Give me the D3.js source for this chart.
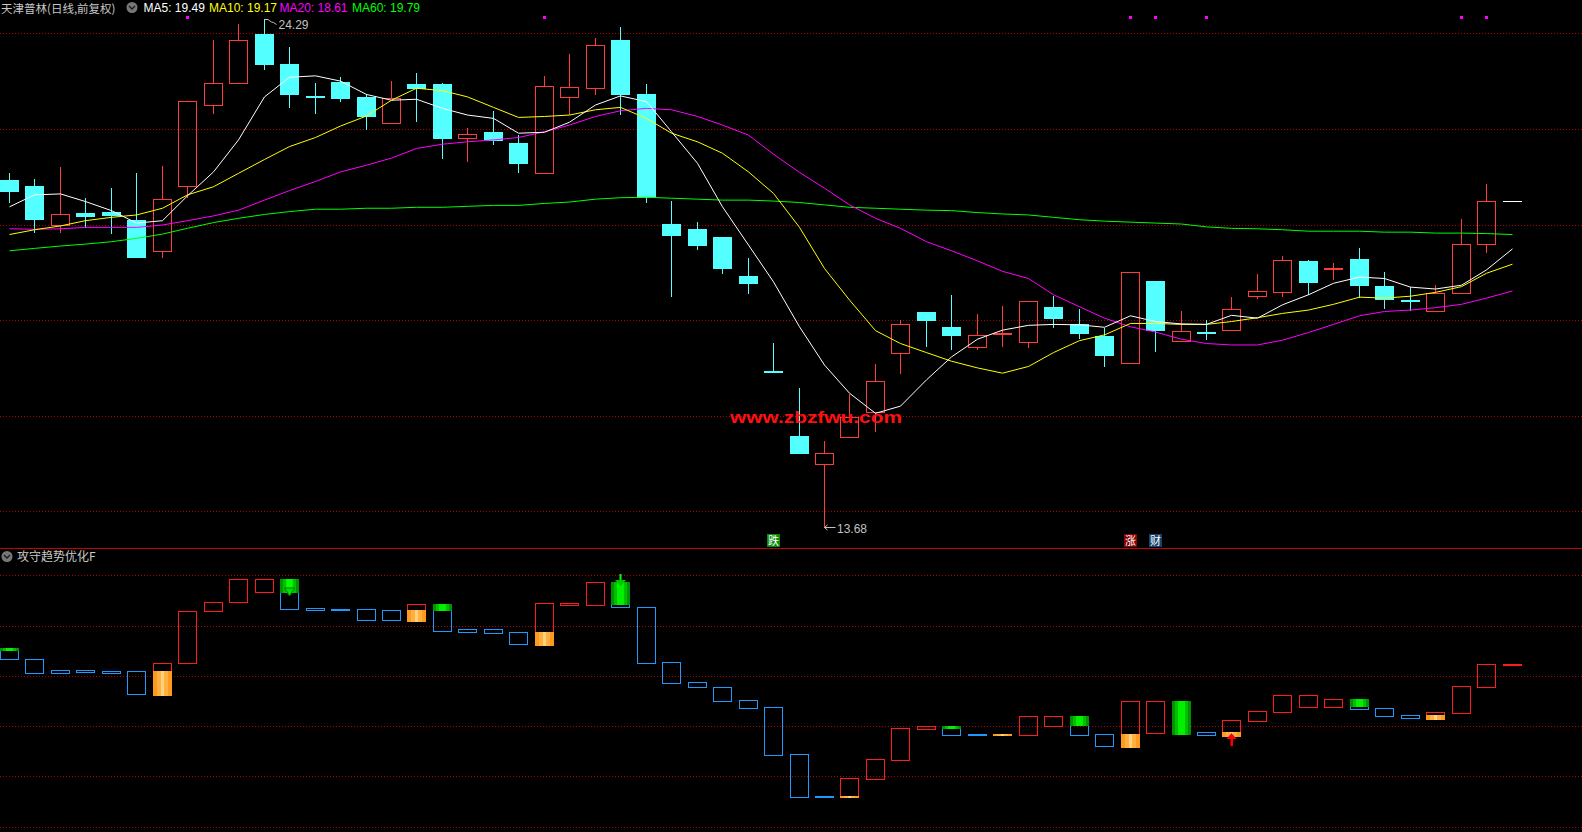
<!DOCTYPE html>
<html><head><meta charset="utf-8">
<script src="https://cdn.jsdelivr.net/npm/d3@7"></script>
<style>html,body{margin:0;padding:0;background:#000;overflow:hidden}</style>
</head><body>
<svg id="chart" width="1582" height="832"></svg>
<script>
// ---------- data ----------
const open  = [20.93,20.81,19.98,20.24,20.26,20.09,19.44,20.80,22.49,22.95,
               23.99,23.36,22.67,22.98,22.67,22.13,22.94,22.94,21.80,21.94,
               21.71,21.07,22.67,22.86,23.86,22.73,20.01,19.91,19.74,18.92,
               16.91,15.58,15.00,15.55,16.08,17.31,18.17,17.86,17.43,17.69,
               17.55,18.27,17.91,17.67,17.10,18.82,17.56,17.73,17.80,18.51,
               18.59,19.24,19.06,19.28,18.71,18.40,18.18,18.56,19.59,20.49];
const close = [20.71,20.12,20.23,20.18,20.20,19.33,20.53,22.58,22.95,23.85,
               23.36,22.72,22.66,22.65,22.28,22.64,22.86,21.82,21.89,21.76,
               21.29,22.89,22.87,23.75,22.74,20.58,19.79,19.58,19.08,18.78,
               16.91,15.23,15.23,15.97,16.72,17.91,18.01,17.69,17.68,17.70,
               18.41,18.05,17.72,17.28,19.00,17.80,17.77,17.72,18.23,18.60,
               19.26,18.80,19.07,18.74,18.44,18.39,18.56,19.59,20.49,20.49];
const high  = [21.08,20.95,21.21,20.55,20.76,21.08,21.22,22.58,23.87,24.19,
               24.29,23.71,22.95,23.08,22.74,23.00,23.17,22.97,22.01,22.37,
               21.87,23.11,23.57,23.90,24.13,22.94,20.49,20.05,19.74,19.30,
               17.52,16.57,15.47,16.45,17.08,18.00,18.17,18.53,18.13,18.30,
               18.41,18.50,18.23,17.84,19.00,18.82,18.19,18.00,18.48,18.96,
               19.34,19.26,19.20,19.51,19.01,18.69,18.73,20.12,20.85,20.49];
const low   = [20.48,19.84,19.84,19.94,19.82,19.31,19.31,20.58,22.34,22.95,
               23.26,22.46,22.33,22.59,22.00,22.13,22.17,21.40,21.33,21.68,
               21.10,21.07,22.31,22.74,22.32,20.48,18.51,19.49,18.99,18.57,
               16.91,15.23,13.68,15.55,15.69,16.90,17.46,17.40,17.40,17.46,
               17.43,17.86,17.63,17.03,17.10,17.36,17.56,17.61,17.80,18.47,
               18.51,18.55,18.87,18.48,18.25,18.21,18.18,18.56,19.43,20.49];

const ma5  = [20.37,20.62,20.64,20.48,20.29,20.03,20.08,20.60,21.10,21.77,
              22.67,23.08,23.11,23.00,22.72,22.60,22.62,22.43,22.29,22.22,
              21.91,21.93,22.14,22.50,22.69,22.57,21.94,21.28,20.37,19.57,
              18.80,17.86,17.06,16.47,16.05,16.20,16.75,17.23,17.60,17.79,
              17.89,17.91,17.90,17.85,18.09,17.97,17.92,17.91,18.10,18.04,
              18.32,18.53,18.77,18.90,18.87,18.69,18.65,18.73,19.05,19.49];
const ma10 = [19.79,19.89,19.97,20.08,20.15,20.20,20.34,20.62,20.79,21.07,
              21.36,21.63,21.82,22.06,22.27,22.60,22.85,22.80,22.67,22.45,
              22.24,22.26,22.29,22.40,22.45,22.22,21.91,21.73,21.49,21.10,
              20.65,19.94,19.08,18.42,17.78,17.51,17.32,17.14,17.00,16.89,
              17.03,17.32,17.57,17.69,17.93,17.93,17.91,17.91,17.97,18.05,
              18.14,18.21,18.33,18.48,18.46,18.50,18.58,18.70,18.98,19.17];
const ma20 = [19.91,19.90,19.91,19.94,19.94,19.94,19.99,20.08,20.18,20.30,
              20.51,20.71,20.90,21.10,21.24,21.39,21.59,21.68,21.73,21.77,
              21.82,21.94,22.08,22.26,22.38,22.43,22.40,22.26,22.08,21.87,
              21.47,21.09,20.76,20.41,20.13,19.92,19.64,19.45,19.24,19.02,
              18.87,18.53,18.28,18.04,17.86,17.75,17.60,17.51,17.48,17.48,
              17.58,17.74,17.91,18.09,18.18,18.21,18.26,18.33,18.46,18.61];
const ma60 = [19.45,19.50,19.55,19.59,19.64,19.71,19.80,19.92,20.04,20.13,
              20.21,20.27,20.32,20.32,20.34,20.34,20.36,20.36,20.38,20.40,
              20.40,20.44,20.47,20.53,20.56,20.57,20.55,20.53,20.51,20.51,
              20.49,20.46,20.41,20.36,20.34,20.32,20.30,20.29,20.25,20.22,
              20.20,20.15,20.10,20.07,20.05,20.03,20.01,19.95,19.92,19.91,
              19.89,19.86,19.86,19.86,19.84,19.84,19.82,19.82,19.81,19.79];

// indicator "攻守趋势优化F": box top / bottom, colour flag, fills
const indHi = [21.12,20.66,20.22,20.22,20.18,20.18,20.50,22.57,22.93,23.84,
               23.84,23.84,22.70,22.65,22.65,22.61,22.85,22.85,21.85,21.85,
               21.73,22.89,22.90,23.72,23.73,22.73,20.54,19.74,19.54,19.03,
               18.75,16.88,15.20,15.92,16.68,17.91,17.99,18.00,17.67,17.67,
               18.39,18.39,18.40,17.67,18.99,18.99,19.00,17.76,18.23,18.59,
               19.22,19.22,19.07,19.08,18.71,18.43,18.55,19.59,20.46,20.46];
const indLo = [20.66,20.10,20.10,20.14,20.13,19.29,19.29,20.50,22.57,22.93,
               23.32,22.67,22.63,22.65,22.23,22.23,22.23,21.77,21.76,21.72,
               21.25,21.25,22.83,22.83,22.73,20.52,19.73,19.54,19.01,18.73,
               16.86,15.19,15.20,15.20,15.90,16.66,17.89,17.66,17.67,17.67,
               17.66,18.01,17.66,17.22,17.22,17.74,17.74,17.66,17.66,18.21,
               18.57,18.77,18.77,18.69,18.41,18.33,18.33,18.53,19.57,20.46];
const indUp = [0,0,0,0,0,0,1,1,1,1, 1,0,0,0,0,0,1,0,0,0,
               0,1,1,1,0,0,0,0,0,0, 0,0,0,1,1,1,1,0,0,1,
               1,1,0,0,1,1,0,0,1,1, 1,1,1,0,0,0,1,1,1,1];
const greenTo = {0:20.99, 11:23.31, 17:22.58, 24:22.82, 37:17.88, 42:18.01, 46:17.74, 53:18.76};
const orangeFrom = {6:20.18, 16:22.62, 21:21.74, 33:15.20, 39:17.67, 44:17.68, 48:17.75, 56:18.44};
const downArrowInside = [11];
const downArrowAbove = [24];
const upArrowBelow = [48];

const gridLevels = [24, 22, 20, 18, 16, 14];
const maNames = ["MA5", "MA10", "MA20", "MA60"];
const maLast = ["19.49", "19.17", "18.61", "19.79"];
const maColors = ["#ffffff", "#ffff00", "#ff00ff", "#00ff00"];
const signalBars = [7, 21, 44, 45, 47, 57, 58];
const tagBars = [30, 44, 45];
const tagText = ["跌", "涨", "财"];
const titleText = "天津普林(日线,前复权)";
const indTitle = "攻守趋势优化F";
const watermark = "www.zbzfwu.com";

// ---------- drawing ----------
const W = 1582, H = 832;
const UP = "#ff3c3c", DOWN = "#54ffff";
const CJK = "'Noto Sans CJK SC', sans-serif";
const LAT = "'Liberation Sans', Arial, sans-serif";
const svg = d3.select("#chart");
svg.append("rect").attr("width", W).attr("height", H).attr("fill", "#000");

const idx = d3.range(open.length);
const x = d3.scaleBand().domain(idx).range([-3.24, 1524.94]).paddingInner(0.25).paddingOuter(0.125);
const bx = i => Math.round(x(i));
const cx = i => bx(i) + 9.5;
const y = d3.scaleLinear().domain([14, 24]).range([511.3, 33.3]);
const yi = d3.scaleLinear().domain([14, 24]).range([826.55, 575.3]);

const defs = svg.append("defs");
function stripes(id, cols) {
  const g = defs.append("linearGradient").attr("id", id)
    .attr("x1", "0%").attr("x2", "100%").attr("y1", "0%").attr("y2", "0%");
  const n = cols.length;
  cols.forEach((c, k) => {
    g.append("stop").attr("offset", (k / n * 100) + "%").attr("stop-color", c);
    g.append("stop").attr("offset", ((k + 1) / n * 100) + "%").attr("stop-color", c);
  });
}
stripes("gGreen", ["#009400", "#00c000", "#00f000", "#00f000", "#00c000", "#009400"]);
stripes("gOrange", ["#ff9a20", "#ffb040", "#ffd27e", "#ffb040", "#ff9a20"]);

// grids
const gridG = svg.append("g").attr("shape-rendering", "crispEdges");
gridLevels.forEach(v => {
  [y, yi].forEach(s => {
    const yy = Math.round(s(v)) + 0.5;
    gridG.append("line").attr("x1", 0).attr("x2", W).attr("y1", yy).attr("y2", yy)
      .attr("stroke", "#b00000").attr("stroke-dasharray", "1,2");
  });
});
// separator
gridG.append("line").attr("x1", 0).attr("x2", W).attr("y1", 548.5).attr("y2", 548.5).attr("stroke", "#c80000");

// candles
const cg = svg.append("g").attr("shape-rendering", "crispEdges");
idx.forEach(i => {
  const o = open[i], c = close[i], h = high[i], l = low[i];
  let col;
  if (h === l) col = "#ffffff";
  else if (c > o) col = UP;
  else if (c < o) col = DOWN;
  else col = (i > 0 && c < close[i - 1]) ? DOWN : UP;
  const x0 = bx(i), xc = x0 + 9.5;
  const yT = Math.round(y(Math.max(o, c))), yB = Math.round(y(Math.min(o, c)));
  const yH = Math.round(y(h)), yL = Math.round(y(l));
  if (h === l) {
    cg.append("rect").attr("x", x0).attr("y", yT).attr("width", 19).attr("height", 1).attr("fill", col);
    return;
  }
  const flat = (yB - yT) < 2;
  if (flat) {
    cg.append("line").attr("x1", xc).attr("x2", xc).attr("y1", yH).attr("y2", yL + 1).attr("stroke", col);
    cg.append("rect").attr("x", x0).attr("y", yT - 1).attr("width", 19).attr("height", 2).attr("fill", col);
  } else if (col === UP) {
    if (yH < yT) cg.append("line").attr("x1", xc).attr("x2", xc).attr("y1", yH).attr("y2", yT).attr("stroke", col);
    if (yL > yB) cg.append("line").attr("x1", xc).attr("x2", xc).attr("y1", yB + 1).attr("y2", yL + 1).attr("stroke", col);
    cg.append("rect").attr("x", x0 + 0.5).attr("y", yT + 0.5).attr("width", 18).attr("height", yB - yT)
      .attr("fill", "none").attr("stroke", col);
  } else {
    cg.append("line").attr("x1", xc).attr("x2", xc).attr("y1", yH).attr("y2", yL + 1).attr("stroke", col);
    cg.append("rect").attr("x", x0).attr("y", yT).attr("width", 19).attr("height", yB - yT + 1).attr("fill", col);
  }
});

// moving averages
const lineGen = d3.line().x((d, i) => cx(i)).y(d => y(d));
[[ma60, maColors[3]], [ma20, maColors[2]], [ma10, maColors[1]], [ma5, maColors[0]]].forEach(([arr, colr]) => {
  svg.append("path").attr("d", lineGen(arr)).attr("fill", "none").attr("stroke", colr).attr("stroke-width", 1);
});

// signal squares
signalBars.forEach(i => {
  svg.append("rect").attr("x", bx(i) + 8).attr("y", 16).attr("width", 3).attr("height", 3).attr("fill", "#ff00ff");
});

// high / low labels
const iMax = d3.maxIndex(high), iMin = d3.minIndex(low);
{
  const hx = cx(iMax), hy = Math.round(y(high[iMax])) + 0.5;
  svg.append("path").attr("d", `M${hx},${hy} L${hx + 4},${hy} M${hx + 4},${hy + 0.5} L${hx + 7},${hy + 2.5} L${hx + 9},${hy + 3} L${hx + 12},${hy + 5}`)
    .attr("stroke", "#c0c0c0").attr("fill", "none");
  svg.append("text").attr("x", hx + 14).attr("y", hy + 9.5).attr("fill", "#c0c0c0")
    .attr("font-family", LAT).attr("font-size", 12).text(high[iMax].toFixed(2));
  const lx = cx(iMin), ly = Math.round(y(low[iMin])) + 0.5;
  svg.append("path").attr("d", `M${lx},${ly} L${lx + 11},${ly} M${lx},${ly} L${lx + 3},${ly - 2.5} M${lx},${ly} L${lx + 3},${ly + 2.5}`)
    .attr("stroke", "#c0c0c0").attr("fill", "none");
  svg.append("text").attr("x", lx + 12.5).attr("y", ly + 5.5).attr("fill", "#c0c0c0")
    .attr("font-family", LAT).attr("font-size", 12).text(low[iMin].toFixed(2));
}

// tags
const tagBg = ["#0a8a0a", "#8b0000", "#17406e"];
tagBars.forEach((b, k) => {
  const x0 = Math.round(cx(b) - 7);
  svg.append("rect").attr("x", x0).attr("y", 534).attr("width", 13).attr("height", 13).attr("fill", tagBg[k]);
  svg.append("text").attr("x", x0 + 6.5).attr("y", 545).attr("text-anchor", "middle")
    .attr("fill", "#ffffff").attr("font-family", CJK).attr("font-size", 11).text(tagText[k]);
});

// watermark
svg.append("text").attr("x", 730).attr("y", 423).attr("fill", "#ff1010")
  .attr("font-family", LAT).attr("font-weight", "bold").attr("font-size", 17)
  .attr("textLength", 172).attr("lengthAdjust", "spacingAndGlyphs").text(watermark);

// indicator panel
const ig = svg.append("g").attr("shape-rendering", "crispEdges");
idx.forEach(i => {
  const x0 = bx(i);
  const yT = Math.round(yi(indHi[i])), yB = Math.round(yi(indLo[i]));
  const col = indUp[i] ? "#ff1c1c" : "#1e9aff";
  ig.append("rect").attr("x", x0 + 0.5).attr("y", yT + 0.5).attr("width", 18).attr("height", Math.max(yB - yT, 1))
    .attr("fill", "none").attr("stroke", col);
  if (greenTo[i] !== undefined) {
    const y2 = Math.round(yi(greenTo[i]));
    ig.append("rect").attr("x", x0).attr("y", yT).attr("width", 19)
      .attr("height", Math.max(y2 - yT + (y2 >= yB ? 2 : 0), 2)).attr("fill", "url(#gGreen)");
  }
  if (orangeFrom[i] !== undefined) {
    const y1 = Math.round(yi(orangeFrom[i]));
    ig.append("rect").attr("x", x0).attr("y", y1).attr("width", 19)
      .attr("height", Math.max(yB + 2 - y1, 2)).attr("fill", "url(#gOrange)");
  }
});
// arrows
downArrowInside.forEach(i => {
  const c = cx(i), t = Math.round(yi(indHi[i]));
  svg.append("rect").attr("x", c - 2.5).attr("y", t).attr("width", 5).attr("height", 10).attr("fill", "#00ff00");
  svg.append("path").attr("d", `M${c - 5},${t + 9} L${c + 5},${t + 9} L${c},${t + 17} Z`)
    .attr("fill", "#00e000").attr("stroke", "#007a00").attr("stroke-width", 1);
});
downArrowAbove.forEach(i => {
  const c = cx(i), t = Math.round(yi(indHi[i]));
  svg.append("rect").attr("x", c - 1).attr("y", t - 8).attr("width", 2).attr("height", 7).attr("fill", "#00ff00");
  svg.append("path").attr("d", `M${c - 5.5},${t - 2} L${c + 5.5},${t - 2} L${c},${t + 4} Z`).attr("fill", "#00c800");
});
upArrowBelow.forEach(i => {
  const c = cx(i), b = Math.round(yi(indLo[i]));
  svg.append("path").attr("d", `M${c - 5},${b + 4} L${c + 5},${b + 4} L${c},${b - 2} Z`).attr("fill", "#ff0000");
  svg.append("rect").attr("x", c - 1).attr("y", b + 4).attr("width", 2.5).attr("height", 7).attr("fill", "#ff0000");
});

// header
function icon(px, py) {
  svg.append("circle").attr("cx", px).attr("cy", py).attr("r", 5.5).attr("fill", "#777777");
  svg.append("path").attr("d", `M${px - 3},${py - 1.5} L${px},${py + 1.5} L${px + 3},${py - 1.5}`)
    .attr("fill", "none").attr("stroke", "#1a1a1a").attr("stroke-width", 1.4);
}
svg.append("text").attr("x", 1).attr("y", 13).attr("fill", "#c8c8c8")
  .attr("font-family", CJK).attr("font-size", 11.5).text(titleText);
icon(132, 7.5);
const maX = [143.5, 209, 279.5, 352];
maNames.forEach((n, k) => {
  svg.append("text").attr("x", maX[k]).attr("y", 12).attr("fill", maColors[k])
    .attr("font-family", LAT).attr("font-size", 12).text(`${n}: ${maLast[k]}`);
});
icon(7, 556.5);
svg.append("text").attr("x", 17).attr("y", 561).attr("fill", "#c8c8c8")
  .attr("font-family", CJK).attr("font-size", 12).text(indTitle);
</script>
</body></html>
